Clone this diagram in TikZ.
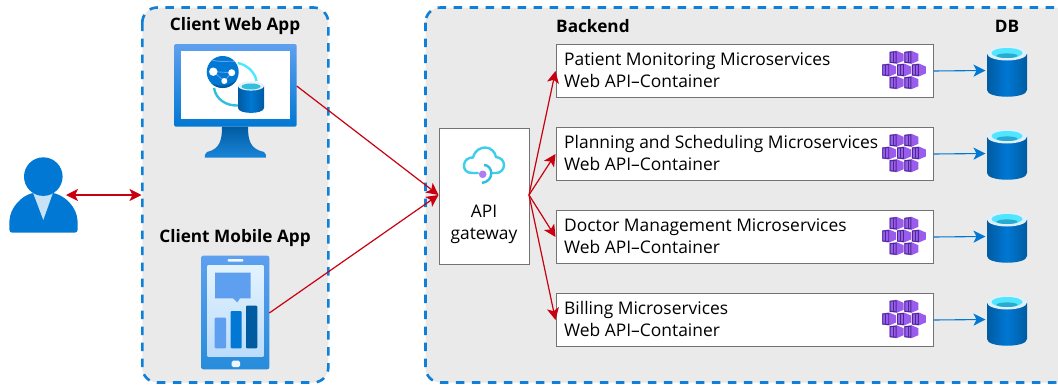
\documentclass[tikz,border=0pt]{standalone}
\usepackage{fontspec}
\setmainfont{Open Sans}
\usetikzlibrary{arrows.meta,calc}
\definecolor{dashblue}{HTML}{0F7FD8}
\definecolor{panelgray}{HTML}{EAEAEA}
\definecolor{azure}{HTML}{0078D4}
\definecolor{azdark}{HTML}{005BA1}
\definecolor{azlight}{HTML}{5EA0EF}
\definecolor{cyanc}{HTML}{50E6FF}
\definecolor{cyanm}{HTML}{32BEDD}
\definecolor{kpurple}{HTML}{9A5CEC}
\definecolor{kdark}{HTML}{4A2A8F}
\definecolor{redline}{HTML}{C8000F}
\definecolor{phonetop}{HTML}{E3F3FD}
\definecolor{phonebot}{HTML}{BCDCFB}
\tikzset{
  x=1pt,y=-1pt,
  panel/.style={draw=dashblue,fill=panelgray,line width=2.6pt,dash pattern=on 8.5pt off 7.5pt,rounded corners=15pt},
  svcbox/.style={draw=black!55,fill=white,line width=1pt,minimum width=377pt,minimum height=53pt,anchor=north west,inner sep=0pt},
  gatebox/.style={draw=black!55,fill=white,line width=1pt,minimum width=90.5pt,minimum height=136pt,anchor=north west,inner sep=0pt},
  title/.style={font=\fontsize{17.2}{18}\selectfont\bfseries,inner sep=0pt},
  svctext/.style={font=\fontsize{17.4}{22.5}\selectfont,align=left,anchor=west,inner sep=0pt},
  redarrow/.style={draw=redline,line width=1.2pt,-{Stealth[length=12pt,width=12pt,inset=3pt]}},
  bluearrow/.style={draw=azure,line width=1.1pt,-{Stealth[length=12pt,width=12pt,inset=3pt]}},
}
\newcommand{\dbicon}[2]{%
  \begin{scope}[shift={(#1,#2)}]
    \shade[left color=azdark,right color=azdark,middle color=azure]
      (-20,-17) -- (-20,19.5) .. controls (-20,28.5) and (20,28.5) .. (20,19.5) -- (20,-17) -- cycle;
    \fill[white!88!azure] (0,-17) ellipse[x radius=20,y radius=7];
    \fill[cyanc] (0,-17.5) ellipse[x radius=15.5,y radius=5];
    \fill[cyanm!80!azdark] (0,-14.8) ellipse[x radius=10.5,y radius=2.3];
  \end{scope}}
\newcommand{\kcell}[2]{%
  \begin{scope}[shift={(#1,#2)}]
    \fill[kpurple] (-7,-5.5) -- (0,-6.5) -- (7,-3.5) -- (7,3.5) -- (0,6.5) -- (-7,5.5) -- cycle;
    \draw[kdark,line width=.9pt] (-6.5,-5) -- (-0.5,-5.5) -- (-0.5,5.5) -- (-6.5,5) -- cycle;
    \draw[kdark,line width=.7pt] (-3.5,-5) -- (-3.5,5);
  \end{scope}}
\newcommand{\kicon}[2]{%
  \begin{scope}[shift={(#1,#2)}]
    \kcell{-7.4}{-12.7}\kcell{7.4}{-12.7}
    \kcell{-14.8}{0}\kcell{0}{0}\kcell{14.8}{0}
    \kcell{-7.4}{12.7}\kcell{7.4}{12.7}
  \end{scope}}
\begin{document}
\begin{tikzpicture}
\useasboundingbox (0,0) rectangle (1058,386);
% panels
\path[panel] (142.3,7.5) rectangle (328.3,382.5);
\path[panel] (425.5,7.5) rectangle (1070,382.5);
% titles
\node[title] (twebapp) at (235,26.5) {Client Web App};
\node[title] (tmobile) at (235,238.5) {Client Mobile App};
\node[title,anchor=west] (tbackend) at (556,26.5) {Backend};
\node[title] (tdb) at (1007,26.5) {DB};
% person
\fill[azure,rounded corners=3pt] (9.3,232.7) -- (9.3,224) .. controls (10,207) and (22,196) .. (34,192.7) -- (52,192.7) .. controls (65,196) and (77,207) .. (77.7,224) -- (77.7,232.7) -- cycle;
\fill[azure!22!white] (33,192.7) -- (53,192.7) -- (43.3,220) -- cycle;
\fill[azure] (43.3,176.6) circle (19.3);
\coordinate (personedge) at (66,195);
\coordinate (clientedge) at (141.5,195);
% web app monitor
\shade[top color=azlight,bottom color=azure,rounded corners=1.5pt] (174,44) rectangle (296.7,126.7);
\fill[white] (180.5,51) rectangle (290,119.3);
\shade[top color=azdark,bottom color=azure!90!white] (222,126.7) -- (248,126.7) .. controls (248,140) and (250,149) .. (264,152) .. controls (266,153) and (266,156) .. (266,157.7) -- (204.7,157.7) .. controls (204.7,156) and (205,153) .. (207,152) .. controls (220,149) and (222,140) .. (222,126.7) -- cycle;
\coordinate (webapp) at (296.7,86);
\draw[cyanm,line width=2.4pt] (214,88) .. controls (216,100) and (227,106) .. (238,105.5);
\draw[cyanc,line width=2.4pt] (238,63) .. controls (247,65) and (255,72) .. (256.5,81);
\fill[azure] (222.7,72) circle (16);
\begin{scope}
  \clip (222.7,72) circle (16);
  \fill[azdark] (206,80) .. controls (215,88) and (232,88) .. (240,76) -- (240,90) -- (206,90) -- cycle;
  \draw[azlight,line width=.9pt] (213.3,71.7) -- (231.7,72.7) -- (224.3,81) -- cycle;
  \draw[azlight,line width=.9pt] (212,60) .. controls (222,63) and (232,60) .. (236,62);
\end{scope}
\fill[white] (213.3,71.7) circle (4.2);
\fill[white] (231.7,72.7) circle (3.5);
\fill[white] (224.3,81) circle (3);
\shade[left color=azdark,right color=azdark,middle color=azure] (238,86) -- (238,108) .. controls (238,114.5) and (264,114.5) .. (264,108) -- (264,86) -- cycle;
\fill[white!90!azure] (251,86) ellipse[x radius=13,y radius=4.6];
\fill[cyanm] (251,86.5) ellipse[x radius=9.5,y radius=3];
% mobile app
\shade[top color=azlight,bottom color=azure!85!white,rounded corners=2pt] (201.3,255.7) rectangle (269.3,369.3);
\shade[top color=phonetop,bottom color=phonebot] (207.7,265.7) rectangle (263.3,356.7);
\fill[white!90!azlight,rounded corners=1pt] (227.7,259) rectangle (243.3,261.7);
\fill[white!90!azlight,rounded corners=1.5pt] (231.7,360.7) rectangle (240,367);
\fill[azlight] (215,272.7) -- (250.7,272.7) -- (250.7,298.3) -- (240,298.3) -- (237.3,302.3) -- (233,298.3) -- (215,298.3) -- cycle;
\fill[azlight,rounded corners=1pt] (214.7,317.7) rectangle (226,348.3);
\fill[azure,rounded corners=1pt] (230.7,311) rectangle (241.7,348.3);
\fill[azdark,rounded corners=1pt] (246,305.7) rectangle (257.3,348.3);
\coordinate (mobile) at (269.3,313);
% gateway
\node[gatebox] (gw) at (438.5,127.5) {};
\node[font=\fontsize{17.4}{21.5}\selectfont,align=center,inner sep=0pt] (gwtext) at (484,224.5) {API\\gateway};
\draw[cyanm!60!cyanc,line width=2.4pt,line cap=round] (478,173) -- (472,173) .. controls (466,173) and (463.5,169) .. (464,164.5) .. controls (464.5,160) and (469,157) .. (473,157.5) .. controls (475,150) and (481,147.5) .. (485,147.5) .. controls (491,147.5) and (495,152) .. (496,157) .. controls (501,157.5) and (504,161) .. (504,165) .. controls (504,170) and (500,173) .. (496,173) -- (492,173);
\draw[cyanm,line width=2.4pt] (484,165) .. controls (493,165) and (495,181) .. (482,183);
\fill[kpurple!80!white] (482.7,174.3) circle (3.8);
% services
\node[svcbox] (s1) at (555.5,44) {};
\node[svctext] (s1t) at (564,70) {Patient Monitoring Microservices\\Web API–Container};
\node[svcbox] (s2) at (555.5,127) {};
\node[svctext] (s2t) at (564,153) {Planning and Scheduling Microservices\\Web API–Container};
\node[svcbox] (s3) at (555.5,210) {};
\node[svctext] (s3t) at (564,236) {Doctor Management Microservices\\Web API–Container};
\node[svcbox] (s4) at (555.5,293) {};
\node[svctext] (s4t) at (564,319) {Billing Microservices\\Web API–Container};
\kicon{904}{70}\kicon{904}{153}\kicon{904}{236}\kicon{904}{319}
\dbicon{1007}{70.5}\dbicon{1007}{153.5}\dbicon{1007}{236.5}\dbicon{1007}{319.5}
\coordinate (d1) at (985.5,70.5);
\coordinate (d2) at (985.5,153.5);
\coordinate (d3) at (985.5,236.5);
\coordinate (d4) at (985.5,319.5);
% arrows
\draw[draw=redline,line width=1.2pt,{Stealth[length=12pt,width=12pt,inset=3pt]}-{Stealth[length=12pt,width=12pt,inset=3pt]}] (personedge) -- (clientedge);
\coordinate (gin) at (438.5,195);
\coordinate (gout) at (529,195);
\draw[redarrow] (webapp) -- (gin);
\draw[redarrow] (mobile) -- (gin);
\draw[redarrow] (gout) -- (s1.west);
\draw[redarrow] (gout) -- (s2.west);
\draw[redarrow] (gout) -- (s3.west);
\draw[redarrow] (gout) -- (s4.west);
\draw[bluearrow] (s1.east) -- (d1);
\draw[bluearrow] (s2.east) -- (d2);
\draw[bluearrow] (s3.east) -- (d3);
\draw[bluearrow] (s4.east) -- (d4);
\end{tikzpicture}
\end{document}
